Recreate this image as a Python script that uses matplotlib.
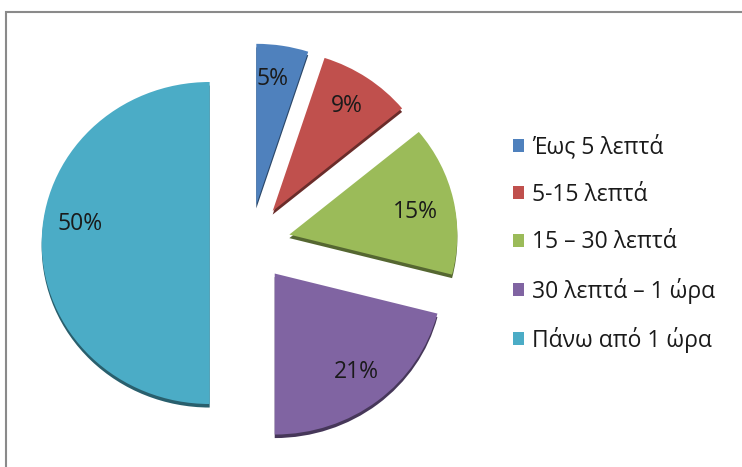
import matplotlib
matplotlib.use("Agg")
import matplotlib.pyplot as plt
from matplotlib.patches import Rectangle
from matplotlib.colors import to_rgb

plt.rcParams["font.family"] = ["Open Sans", "DejaVu Sans"]

labels = ["Έως 5 λεπτά", "5-15 λεπτά", "15 – 30 λεπτά", "30 λεπτά – 1 ώρα", "Πάνω από 1 ώρα"]
values = [5, 9, 15, 21, 50]
colors = ["#4F81BD", "#C0504D", "#9BBB59", "#8064A2", "#4BACC6"]
explode = [0.24] * len(values)

W, H = 742, 467
RX, RY = 168.0, 161.0  # pie radius in pixels (slightly tilted, so flatter vertically)
CX, CY = 250, 243      # pie centre in pixels (from top-left)

fig = plt.figure(figsize=(W / 100, H / 100), dpi=100)
ax = fig.add_axes([0, 0, 1, 1])

# darker copy underneath for the 3D edge
dark = [tuple(c * 0.55 for c in to_rgb(col)) for col in colors]
ax.pie(values, explode=explode, colors=dark, startangle=90, counterclock=False,
       center=(0, -0.022))

wedges, texts, autotexts = ax.pie(
    values, explode=explode, colors=colors, startangle=90, counterclock=False,
    autopct=lambda p: f"{p:.0f}%", pctdistance=0.79,
    textprops=dict(fontsize=16.5, color="#1a1a1a"))

# small nudges to sit the labels like the original
nudges = [(-0.03, 0.0), (0.0, 0.0), (-0.02, -0.03), (0.0, 0.01), (0.02, 0.12)]
for t, (dx, dy) in zip(autotexts, nudges):
    x, y = t.get_position()
    t.set_position((x + dx, y + dy))

ax.set_xlim(-CX / RX, (W - CX) / RX)
ax.set_ylim(-(H - CY) / RY, CY / RY)
ax.set_aspect("auto")
ax.axis("off")

fig.legend(wedges, labels, loc="center left",
           bbox_to_anchor=(492 / W, 1 - 244 / H), frameon=False,
           fontsize=16.5, labelspacing=1.02, handlelength=0.5, handleheight=0.5,
           handletextpad=0.35, labelcolor="#1a1a1a")

fig.add_artist(Rectangle((6 / W, -0.1), 1.2, 1 - 12 / H + 0.1, transform=fig.transFigure,
                         fill=False, edgecolor="#8a8a8a", linewidth=1.5))

fig.savefig("out.png", dpi=100)
